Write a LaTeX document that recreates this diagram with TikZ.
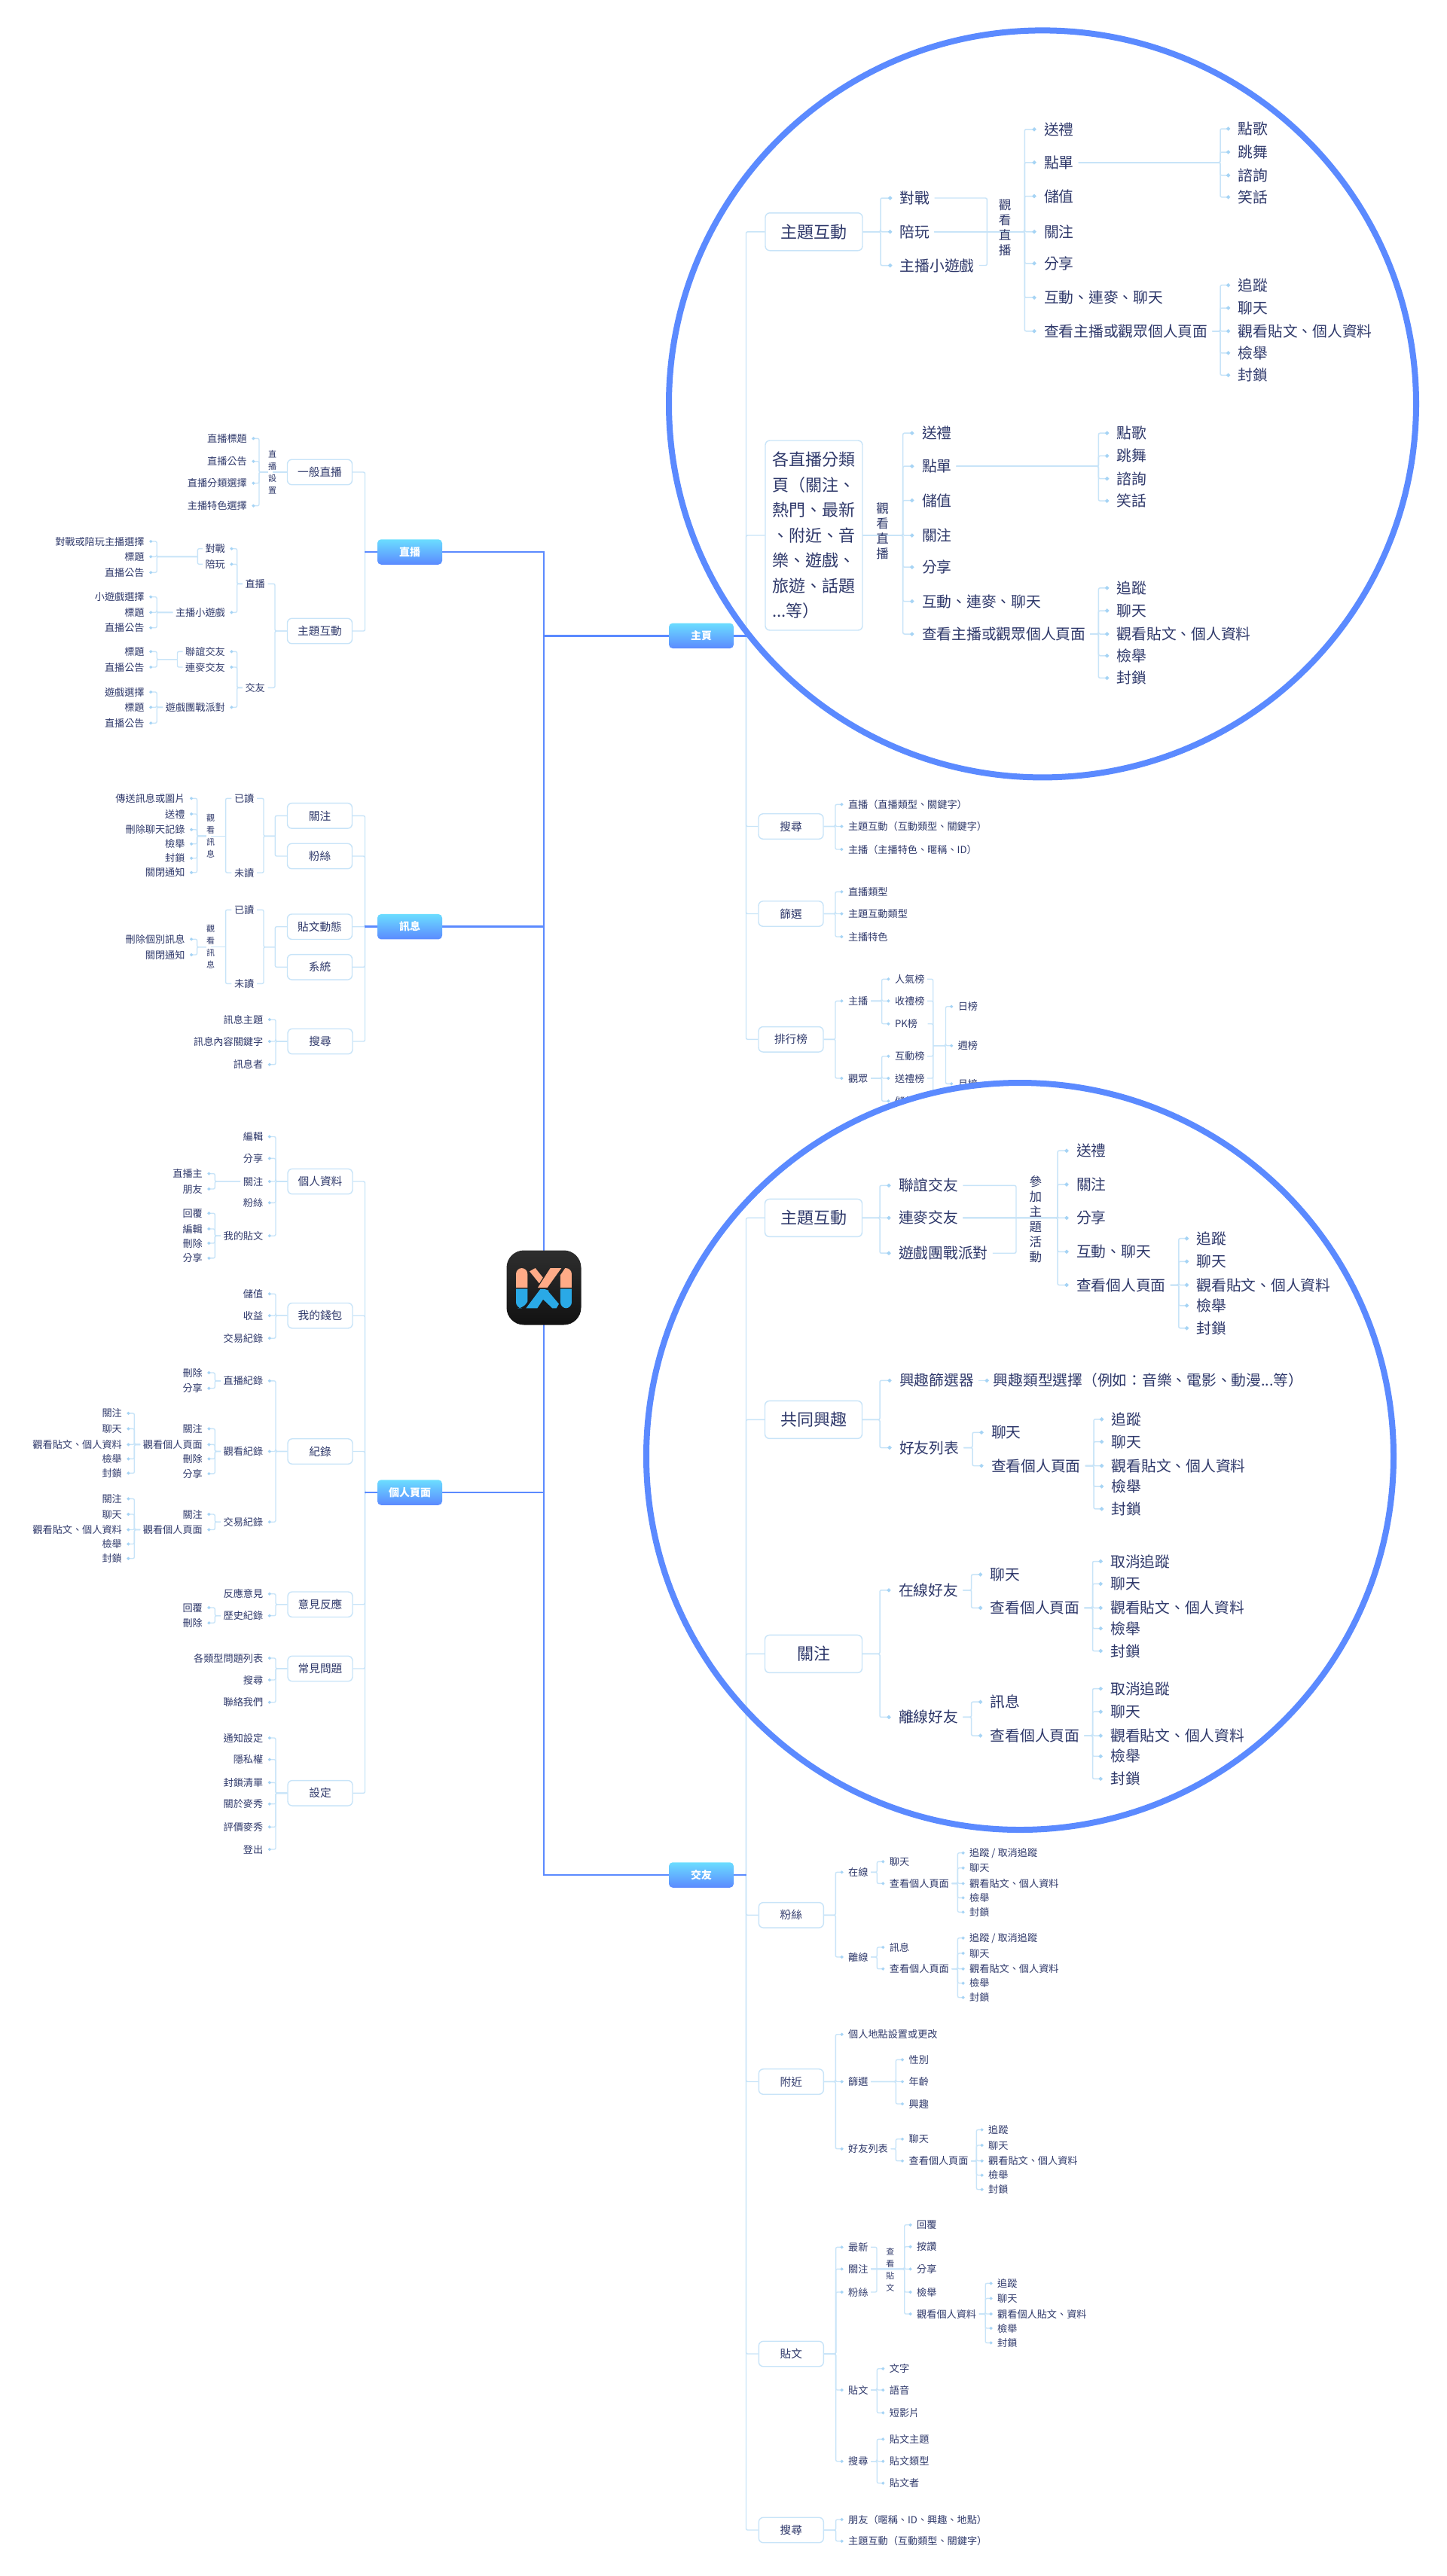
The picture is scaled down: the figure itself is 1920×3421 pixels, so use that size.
\documentclass[tikz,border=0pt]{standalone}
\usepackage{fontspec}
\setmainfont{Noto Sans CJK TC}
\usepackage{tikz}
\usetikzlibrary{arrows.meta}
\definecolor{tinta}{RGB}{46, 56, 106}
\definecolor{linea}{RGB}{200, 228, 248}
\definecolor{punto}{RGB}{166, 212, 245}
\definecolor{azul}{RGB}{91, 138, 255}
\definecolor{cielo}{RGB}{107, 221, 255}
\definecolor{salmon}{RGB}{255, 171, 135}
\definecolor{agua}{RGB}{42, 169, 230}
\pgfdeclarelayer{wires}
\pgfdeclarelayer{lenswires}
\pgfdeclarelayer{lenstext}
\pgfdeclarelayer{lensring}
\pgfsetlayers{wires,main,lenswires,lenstext,lensring}
\tikzstyle{edge}  =[line width=1.4pt, color=linea, rounded corners=2pt]
\tikzstyle{dotedge}=[edge, shorten >=3pt,
                    -{Circle[length=3.8pt,width=3.8pt,color=punto]}]
\tikzstyle{lensdot}=[edge, line width=1.5pt, shorten >=4.5pt,
                    -{Circle[length=5pt,width=5pt,color=punto]}]
\tikzstyle{mainedge}=[line width=2.8pt, color=azul]
\tikzstyle{leaf}  =[text=tinta, inner ysep=0pt, inner xsep=3.5pt, text height=11.3pt, text depth=1.3pt,
                    font=\fontsize{13.15}{16}\selectfont]
\tikzstyle{leafL} =[leaf, anchor=east, xshift=3.5pt]
\tikzstyle{leafR} =[leaf, anchor=west, xshift=-3.5pt]
\tikzstyle{lensleaf}=[text=tinta, anchor=west, xshift=-6pt, inner ysep=0pt, inner xsep=6pt, text height=17pt, text depth=2pt,
                    font=\fontsize{19.75}{24}\selectfont]
\tikzstyle{topic} =[draw=linea, fill=white, line width=1.4pt, rounded corners=6pt, text=tinta,
                    minimum width=86pt, minimum height=33.5pt, inner sep=0pt,
                    font=\fontsize{14.67}{18}\selectfont]
\tikzstyle{lenstopic}=[topic, minimum width=129pt, minimum height=50pt, font=\fontsize{22}{33.5}\selectfont]
\tikzstyle{hub}   =[top color=cielo, bottom color=azul, rounded corners=5pt, text=white,
                    minimum width=86pt, minimum height=33.5pt, inner sep=0pt,
                    font=\fontsize{14}{18}\selectfont\bfseries]
\tikzstyle{vtext} =[text=tinta, align=center, inner sep=0pt, font=\fontsize{11}{16}\selectfont]
\tikzstyle{lensvtext}=[text=tinta, align=center, inner sep=0pt, font=\fontsize{16.5}{20}\selectfont]
\tikzstyle{joint} =[inner sep=0pt, outer sep=0pt, minimum size=0pt]
\tikzstyle{logobox}=[top color=black!82, bottom color=black!93, minimum size=99pt, rounded corners=23pt, inner sep=0pt]
\tikzset{bus/.style={to path={-- (#1,0 |- \tikztostart) |- (\tikztotarget)}}}

\begin{document}
\begin{tikzpicture}[x=1pt,y=-1pt]
    \useasboundingbox (0,0) rectangle (1920,3421);

    % centre
    \draw (722,1710) node (logo) [logobox] {};
    \begin{scope}[shift={(640,1620)},x=.3333pt,y=-.3333pt]
        \fill [salmon] (135,270) [rounded corners=8pt] -- (135,192) -- (181,192) [sharp corners] -- (181,270) -- cycle;
        \fill [salmon] (189,205) -- (212,192) -- (242.5,230) -- (227.7,253) -- cycle;
        \fill [salmon] (272,192) -- (316,192) -- (260,270) -- (222,270) -- cycle;
        \fill [salmon] (312,270) -- (312,220) -- (331,192) [rounded corners=8pt] -- (357,192) [sharp corners] -- (357,270) -- cycle;
        \fill [agua] (135,275) [rounded corners=8pt] -- (135,352) -- (165,352) [sharp corners] -- (181,325) -- (181,275) -- cycle;
        \fill [agua] (175,352) -- (220,352) -- (266,282) -- (250,276) -- (232,276) -- cycle;
        \fill [agua] (262,283) -- (306,335) -- (296,352) -- (280,352) -- (241,315) -- cycle;
        \fill [agua] (312,275) -- (357,275) [rounded corners=8pt] -- (357,352) -- (312,352) [sharp corners] -- cycle;
    \end{scope}
    \draw (544,733) node (zb) [hub] {直播};
    \draw (544,1230.7) node (xx) [hub] {訊息};
    \draw (544,1982) node (gr) [hub] {個人頁面};
    \draw (931,844.3) node (zy) [hub] {主頁};
    \draw (931,2490) node (jy) [hub] {交友};

    % zhibo, left
    \draw (424.5,627) node (zbA) [topic] {一般直播};
    \draw (424.5,838) node (zbB) [topic] {主題互動};
    \draw (361.6,627) node (zbAv) [vtext] {直\\播\\設\\置};
    \draw (328,582.3) node (zbA1) [leafL] {直播標題};
    \draw (328,612.7) node (zbA2) [leafL] {直播公告};
    \draw (328,641.7) node (zbA3) [leafL] {直播分類選擇};
    \draw (328,671.7) node (zbA4) [leafL] {主播特色選擇};
    \draw (352,775.3) node (zbB1) [leafL] {直播};
    \draw (352,913.3) node (zbB2) [leafL] {交友};
    \draw (299,728.7) node (zbC1) [leafL] {對戰};
    \draw (299,749.3) node (zbC2) [leafL] {陪玩};
    \draw (299,813.3) node (zbC3) [leafL] {主播小遊戲};
    \draw (299,865.3) node (zbC4) [leafL] {聯誼交友};
    \draw (299,886) node (zbC5) [leafL] {連麥交友};
    \draw (299,939.3) node (zbC6) [leafL] {遊戲團戰派對};
    \draw (262.4,739.3) node (jA) [joint] {};
    \draw (235.5,875.7) node (jB) [joint] {};
    \draw (191.8,719) node (zbD1) [leafL] {對戰或陪玩主播選擇};
    \draw (191.8,739.3) node (zbD2) [leafL] {標題};
    \draw (191.8,760.3) node (zbD3) [leafL] {直播公告};
    \draw (191.8,792.7) node (zbE1) [leafL] {小遊戲選擇};
    \draw (191.8,813.3) node (zbE2) [leafL] {標題};
    \draw (191.8,833.7) node (zbE3) [leafL] {直播公告};
    \draw (191.8,865.3) node (zbF1) [leafL] {標題};
    \draw (191.8,886) node (zbF2) [leafL] {直播公告};
    \draw (191.8,919) node (zbG1) [leafL] {遊戲選擇};
    \draw (191.8,939.3) node (zbG2) [leafL] {標題};
    \draw (191.8,960.3) node (zbG3) [leafL] {直播公告};

    % xunxi, left
    \draw (424.5,1083.4) node (xxA) [topic] {關注};
    \draw (424.5,1137) node (xxB) [topic] {粉絲};
    \draw (424.5,1230.7) node (xxC) [topic] {貼文動態};
    \draw (424.5,1284.3) node (xxD) [topic] {系統};
    \draw (425,1383) node (xxE) [topic] {搜尋};
    \draw (365.3,1110.3) node (jC) [joint] {};
    \draw (299.6,1110.3) node (jC2) [joint] {};
    \draw (365.3,1257.7) node (jD) [joint] {};
    \draw (299.6,1257.7) node (jD2) [joint] {};
    \draw (337.5,1060.3) node (xxA1) [leafL] {已讀};
    \draw (337.5,1159) node (xxA2) [leafL] {未讀};
    \draw (337.5,1208.3) node (xxC1) [leafL] {已讀};
    \draw (337.5,1306.3) node (xxC2) [leafL] {未讀};
    \draw (279.6,1110.3) node (xxAv) [vtext] {觀\\看\\訊\\息};
    \draw (279.6,1257.7) node (xxCv) [vtext] {觀\\看\\訊\\息};
    \draw (245.7,1060.3) node (xxF1) [leafL] {傳送訊息或圖片};
    \draw (245.7,1081) node (xxF2) [leafL] {送禮};
    \draw (245.7,1101.7) node (xxF3) [leafL] {刪除聊天記錄};
    \draw (245.7,1120.7) node (xxF4) [leafL] {檢舉};
    \draw (245.7,1139.7) node (xxF5) [leafL] {封鎖};
    \draw (245.7,1158.7) node (xxF6) [leafL] {關閉通知};
    \draw (245.7,1247.3) node (xxG1) [leafL] {刪除個別訊息};
    \draw (245.7,1268) node (xxG2) [leafL] {關閉通知};
    \draw (349.4,1354) node (xxE1) [leafL] {訊息主題};
    \draw (349.4,1383) node (xxE2) [leafL] {訊息內容關鍵字};
    \draw (349.4,1413.7) node (xxE3) [leafL] {訊息者};

    % geren, left
    \draw (425,1569) node (grA) [topic] {個人資料};
    \draw (425,1747.2) node (grB) [topic] {我的錢包};
    \draw (425,1927.5) node (grC) [topic] {紀錄};
    \draw (425,2130.7) node (grD) [topic] {意見反應};
    \draw (425,2216) node (grE) [topic] {常見問題};
    \draw (425,2381.3) node (grF) [topic] {設定};
    \draw (349.4,1509.5) node (grA1) [leafL] {編輯};
    \draw (349.4,1538.4) node (grA2) [leafL] {分享};
    \draw (349.4,1569) node (grA3) [leafL] {關注};
    \draw (349.4,1597.3) node (grA4) [leafL] {粉絲};
    \draw (349.4,1641.2) node (grA5) [leafL] {我的貼文};
    \draw (269,1558.6) node (grH1) [leafL] {直播主};
    \draw (269,1579) node (grH2) [leafL] {朋友};
    \draw (269,1611.2) node (grI1) [leafL] {回覆};
    \draw (269,1632) node (grI2) [leafL] {編輯};
    \draw (269,1651) node (grI3) [leafL] {刪除};
    \draw (269,1670.9) node (grI4) [leafL] {分享};
    \draw (349.4,1718.3) node (grB1) [leafL] {儲值};
    \draw (349.4,1747.2) node (grB2) [leafL] {收益};
    \draw (349.4,1777.2) node (grB3) [leafL] {交易紀錄};
    \draw (349.4,1833.8) node (grC1) [leafL] {直播紀錄};
    \draw (349.4,1927.5) node (grC2) [leafL] {觀看紀錄};
    \draw (349.4,2021.2) node (grC3) [leafL] {交易紀錄};
    \draw (269,1823) node (grJ1) [leafL] {刪除};
    \draw (269,1843.7) node (grJ2) [leafL] {分享};
    \draw (269,1897.4) node (grK1) [leafL] {關注};
    \draw (269,1918.4) node (grK2) [leafL] {觀看個人頁面};
    \draw (269,1937.4) node (grK3) [leafL] {刪除};
    \draw (269,1957.1) node (grK4) [leafL] {分享};
    \draw (162,1876.9) node (grL1) [leafL] {關注};
    \draw (162,1897.4) node (grL2) [leafL] {聊天};
    \draw (162,1918.4) node (grL3) [leafL] {觀看貼文、個人資料};
    \draw (162,1937.4) node (grL4) [leafL] {檢舉};
    \draw (162,1956.4) node (grL5) [leafL] {封鎖};
    \draw (269,2011) node (grM1) [leafL] {關注};
    \draw (269,2031.5) node (grM2) [leafL] {觀看個人頁面};
    \draw (162,1990.4) node (grN1) [leafL] {關注};
    \draw (162,2011) node (grN2) [leafL] {聊天};
    \draw (162,2031.5) node (grN3) [leafL] {觀看貼文、個人資料};
    \draw (162,2050.5) node (grN4) [leafL] {檢舉};
    \draw (162,2069.7) node (grN5) [leafL] {封鎖};
    \draw (349.4,2116.7) node (grD1) [leafL] {反應意見};
    \draw (349.4,2145.7) node (grD2) [leafL] {歷史紀錄};
    \draw (269,2135) node (grO1) [leafL] {回覆};
    \draw (269,2155.3) node (grO2) [leafL] {刪除};
    \draw (349.4,2202) node (grE1) [leafL] {各類型問題列表};
    \draw (349.4,2231) node (grE2) [leafL] {搜尋};
    \draw (349.4,2260.7) node (grE3) [leafL] {聯絡我們};
    \draw (349.4,2308) node (grF1) [leafL] {通知設定};
    \draw (349.4,2336.7) node (grF2) [leafL] {隱私權};
    \draw (349.4,2367.3) node (grF3) [leafL] {封鎖清單};
    \draw (349.4,2395.7) node (grF4) [leafL] {關於麥秀};
    \draw (349.4,2426.3) node (grF5) [leafL] {評價麥秀};
    \draw (349.4,2456) node (grF6) [leafL] {登出};

    % zhuye, right, outside the lens
    \draw (1050,1097.5) node (zyC) [topic] {搜尋};
    \draw (1050,1213.5) node (zyD) [topic] {篩選};
    \draw (1050,1380.3) node (zyE) [topic] {排行榜};
    \draw (1125.8,1068.3) node (zyC1) [leafR] {直播（直播類型、關鍵字）};
    \draw (1125.8,1097.5) node (zyC2) [leafR] {主題互動（互動類型、關鍵字）};
    \draw (1125.8,1128) node (zyC3) [leafR] {主播（主播特色、暱稱、ID）};
    \draw (1125.8,1184.3) node (zyD1) [leafR] {直播類型};
    \draw (1125.8,1213.5) node (zyD2) [leafR] {主題互動類型};
    \draw (1125.8,1244) node (zyD3) [leafR] {主播特色};
    \draw (1125.8,1329.3) node (zyE1) [leafR] {主播};
    \draw (1125.8,1432) node (zyE2) [leafR] {觀眾};
    \draw (1187.8,1300.3) node (zyF1) [leafR] {人氣榜};
    \draw (1187.8,1329.3) node (zyF2) [leafR] {收禮榜};
    \draw (1187.8,1359.7) node (zyF3) [leafR] {PK榜};
    \draw (1187.8,1402.7) node (zyF4) [leafR] {互動榜};
    \draw (1187.8,1432) node (zyF5) [leafR] {送禮榜};
    \draw (1187.8,1462.3) node (zyF6) [leafR] {儲值榜};
    \draw (1238.7,1388.7) node (jF) [joint] {};
    \draw (1271.6,1336.7) node (zyG1) [leafR] {日榜};
    \draw (1271.6,1388.7) node (zyG2) [leafR] {週榜};
    \draw (1271.6,1439.3) node (zyG3) [leafR] {月榜};

    % jiaoyou, right, outside the lens
    \draw (1050.3,2543.3) node (jyD) [topic] {粉絲};
    \draw (1050.3,2764.5) node (jyE) [topic] {附近};
    \draw (1050.3,3126) node (jyF) [topic] {貼文};
    \draw (1050.3,3360) node (jyG) [topic] {搜尋};
    \draw (1126,2486.3) node (jyD1) [leafR] {在線};
    \draw (1126,2599) node (jyD2) [leafR] {離線};
    \draw (1180.7,2472.3) node (jyH1) [leafR] {聊天};
    \draw (1180.7,2501.3) node (jyH2) [leafR] {查看個人頁面};
    \draw (1180.7,2586) node (jyH3) [leafR] {訊息};
    \draw (1180.7,2614.7) node (jyH4) [leafR] {查看個人頁面};
    \draw (1287,2460.7) node (jyI1) [leafR] {追蹤 / 取消追蹤};
    \draw (1287,2480.7) node (jyI2) [leafR] {聊天};
    \draw (1287,2501.3) node (jyI3) [leafR] {觀看貼文、個人資料};
    \draw (1287,2520.3) node (jyI4) [leafR] {檢舉};
    \draw (1287,2539.3) node (jyI5) [leafR] {封鎖};
    \draw (1287,2573.7) node (jyJ1) [leafR] {追蹤 / 取消追蹤};
    \draw (1287,2594) node (jyJ2) [leafR] {聊天};
    \draw (1287,2614.7) node (jyJ3) [leafR] {觀看貼文、個人資料};
    \draw (1287,2633.7) node (jyJ4) [leafR] {檢舉};
    \draw (1287,2652.7) node (jyJ5) [leafR] {封鎖};
    \draw (1126,2701.7) node (jyE1) [leafR] {個人地點設置或更改};
    \draw (1126,2764.5) node (jyE2) [leafR] {篩選};
    \draw (1126,2853.7) node (jyE3) [leafR] {好友列表};
    \draw (1206.4,2735.3) node (jyK1) [leafR] {性別};
    \draw (1206.4,2764.5) node (jyK2) [leafR] {年齡};
    \draw (1206.4,2794) node (jyK3) [leafR] {興趣};
    \draw (1206.4,2840.7) node (jyL1) [leafR] {聊天};
    \draw (1206.4,2869.7) node (jyL2) [leafR] {查看個人頁面};
    \draw (1312,2828.3) node (jyM1) [leafR] {追蹤};
    \draw (1312,2849) node (jyM2) [leafR] {聊天};
    \draw (1312,2869.7) node (jyM3) [leafR] {觀看貼文、個人資料};
    \draw (1312,2888.7) node (jyM4) [leafR] {檢舉};
    \draw (1312,2907.7) node (jyM5) [leafR] {封鎖};
    \draw (1126,2984.3) node (jyF1) [leafR] {最新};
    \draw (1126,3013.3) node (jyF2) [leafR] {關注};
    \draw (1126,3044) node (jyF3) [leafR] {粉絲};
    \draw (1126,3174) node (jyF4) [leafR] {貼文};
    \draw (1126,3268.7) node (jyF5) [leafR] {搜尋};
    \draw (1164,3013.3) node (jH) [joint] {};
    \draw (1181.8,3014) node (jyFv) [vtext] {查\\看\\貼\\文};
    \draw (1217,2954.7) node (jyN1) [leafR] {回覆};
    \draw (1217,2983.7) node (jyN2) [leafR] {按讚};
    \draw (1217,3013.3) node (jyN3) [leafR] {分享};
    \draw (1217,3044) node (jyN4) [leafR] {檢舉};
    \draw (1217,3073) node (jyN5) [leafR] {觀看個人資料};
    \draw (1324,3032.3) node (jyO1) [leafR] {追蹤};
    \draw (1324,3052.3) node (jyO2) [leafR] {聊天};
    \draw (1324,3073) node (jyO3) [leafR] {觀看個人貼文、資料};
    \draw (1324,3092) node (jyO4) [leafR] {檢舉};
    \draw (1324,3111.3) node (jyO5) [leafR] {封鎖};
    \draw (1180.7,3145.7) node (jyP1) [leafR] {文字};
    \draw (1180.7,3174) node (jyP2) [leafR] {語音};
    \draw (1180.7,3204.3) node (jyP3) [leafR] {短影片};
    \draw (1180.7,3239.3) node (jyQ1) [leafR] {貼文主題};
    \draw (1180.7,3268.7) node (jyQ2) [leafR] {貼文類型};
    \draw (1180.7,3297.7) node (jyQ3) [leafR] {貼文者};
    \draw (1126,3346) node (jyG1) [leafR] {朋友（暱稱、ID、興趣、地點）};
    \draw (1126,3374.7) node (jyG2) [leafR] {主題互動（互動類型、關鍵字）};

    % wires under everything
    \begin{pgfonlayer}{wires}
        \foreach \j in {zb,xx,gr}
            \draw [mainedge] (logo.center) |- (\j.east);
        \foreach \j in {zy,jy}
            \draw [mainedge] (logo.center) |- (\j.west);

        \draw [edge] (zbA.west) -- (zbAv.center);
        \draw [edge] (jC2.center) -- (xxAv.center);
        \draw [edge] (jD2.center) -- (xxCv.center);
        \foreach \i/\j in {zbC1/jA,zbC2/jA,zbC4/jB,zbC5/jB,xxA/jC,xxB/jC,xxC/jD,xxD/jD,
        xxA1/jC2,xxA2/jC2,xxC1/jD2,xxC2/jD2}
            \draw [edge] (\i.west) -| (\j.center);

        \foreach \i/\k/\kids in {zb/484.5/{zbA,zbB},xx/484.5/{xxA,xxB,xxC,xxD,xxE},
        gr/484.5/{grA,grB,grC,grD,grE,grF},zbB/365/{zbB1,zbB2},jC/350/{xxA1,xxA2},jD/350/{xxC1,xxC2}}
            \foreach \j in \kids
                \draw [edge] (\i.west) to[bus=\k] (\j.east);

        \foreach \i/\k/\kids in {zbAv/344/{zbA1,zbA2,zbA3,zbA4},zbB1/314.7/{zbC1,zbC2,zbC3},
        zbB2/314.7/{zbC4,zbC5,zbC6},jA/208.2/{zbD1,zbD2,zbD3},zbC3/208.2/{zbE1,zbE2,zbE3},
        jB/208.2/{zbF1,zbF2},zbC6/208.2/{zbG1,zbG2,zbG3},
        xxAv/261.6/{xxF1,xxF2,xxF3,xxF4,xxF5,xxF6},xxCv/261.6/{xxG1,xxG2},xxE/366/{xxE1,xxE2,xxE3},
        grA/366/{grA1,grA2,grA3,grA4,grA5},grA3/285.3/{grH1,grH2},grA5/285.3/{grI1,grI2,grI3,grI4},
        grB/366/{grB1,grB2,grB3},grC/366/{grC1,grC2,grC3},grC1/285.3/{grJ1,grJ2},
        grC2/285.3/{grK1,grK2,grK3,grK4},grK2/178.4/{grL1,grL2,grL3,grL4,grL5},
        grC3/285.3/{grM1,grM2},grM2/178.4/{grN1,grN2,grN3,grN4,grN5},
        grD/366/{grD1,grD2},grD2/285.3/{grO1,grO2},grE/366/{grE1,grE2,grE3},
        grF/366/{grF1,grF2,grF3,grF4,grF5,grF6}}
            \foreach \j in \kids
                \draw [dotedge] (\i.west) to[bus=\k] (\j.east);

        \foreach \i in {zyF1,zyF2,zyF4,zyF5,zyF6}
            \draw [edge] (\i.east) -| (jF.center);
        \draw [edge,shorten <=10pt] (zyF3.east) -| (jF.center);
        \foreach \i in {jyF1,jyF3}
            \draw [edge] (\i.east) -| (jH.center);

        \foreach \i/\k/\kids in {zyC/1109/{zyC1,zyC2,zyC3},zyD/1109/{zyD1,zyD2,zyD3},zyE/1109/{zyE1,zyE2},
        zyE1/1170.6/{zyF1,zyF2,zyF3},zyE2/1170.6/{zyF4,zyF5,zyF6},jF/1255.5/{zyG1,zyG2,zyG3},
        jyD/1109.3/{jyD1,jyD2},jyD1/1164.3/{jyH1,jyH2},jyD2/1164.3/{jyH3,jyH4},
        jyH2/1271.4/{jyI1,jyI2,jyI3,jyI4,jyI5},jyH4/1271.4/{jyJ1,jyJ2,jyJ3,jyJ4,jyJ5},
        jyE/1109.3/{jyE1,jyE2,jyE3},jyE2/1189.3/{jyK1,jyK2,jyK3},jyE3/1189.3/{jyL1,jyL2},
        jyL2/1296.4/{jyM1,jyM2,jyM3,jyM4,jyM5},
        jyF/1109.6/{jyF1,jyF2,jyF3,jyF4,jyF5},jyF2/1200.7/{jyN1,jyN2,jyN3,jyN4,jyN5},
        jyN5/1308.2/{jyO1,jyO2,jyO3,jyO4,jyO5},jyF4/1164.3/{jyP1,jyP2,jyP3},jyF5/1164.3/{jyQ1,jyQ2,jyQ3},
        jyG/1109.6/{jyG1,jyG2}}
            \foreach \j in \kids
                \draw [dotedge] (\i.east) to[bus=\k] (\j.west);
    \end{pgfonlayer}

    % the two lenses hide what lies below them
    \fill [white] (1384,536.4) circle (496pt);
    \fill [white] (1354,1934) circle (496pt);
    \begin{pgfonlayer}{lensring}
        \draw [azul,line width=8pt] (1384,536.4) circle (496pt);
        \draw [azul,line width=8pt] (1354,1934) circle (496pt);
    \end{pgfonlayer}

    \begin{pgfonlayer}{lenstext}
        % upper lens
        \draw (1080.5,307.8) node (zyA) [lenstopic] {主題互動};
        \draw (1080.5,711) node (zyB) [lenstopic,align=left,minimum height=252pt] {各直播分類\\頁（關注、\\熱門、最新\\、附近、音\\樂、遊戲、\\旅遊、話題\\...等）};
        \draw (1194.7,263) node (zyA1) [lensleaf] {對戰};
        \draw (1194.7,307.8) node (zyA2) [lensleaf] {陪玩};
        \draw (1194.7,352.5) node (zyA3) [lensleaf] {主播小遊戲};
        \draw (1310.3,307.8) node (jE) [joint] {};
        \draw (1334,302) node (zyAv) [lensvtext] {觀\\看\\直\\播};
        \draw (1386,171.8) node (zyH1) [lensleaf] {送禮};
        \draw (1386,215.8) node (zyH2) [lensleaf] {點單};
        \draw (1386,260.5) node (zyH3) [lensleaf] {儲值};
        \draw (1386,307.8) node (zyH4) [lensleaf] {關注};
        \draw (1386,349.8) node (zyH5) [lensleaf] {分享};
        \draw (1386,395.2) node (zyH6) [lensleaf] {互動、連麥、聊天};
        \draw (1386,439.8) node (zyH7) [lensleaf] {查看主播或觀眾個人頁面};
        \draw (1643.6,171) node (zyI1) [lensleaf] {點歌};
        \draw (1643.6,202) node (zyI2) [lensleaf] {跳舞};
        \draw (1643.6,232.9) node (zyI3) [lensleaf] {諮詢};
        \draw (1643.6,261.8) node (zyI4) [lensleaf] {笑話};
        \draw (1643.6,378.7) node (zyJ1) [lensleaf] {追蹤};
        \draw (1643.6,409) node (zyJ2) [lensleaf] {聊天};
        \draw (1643.6,439.8) node (zyJ3) [lensleaf] {觀看貼文、個人資料};
        \draw (1643.6,468.8) node (zyJ4) [lensleaf] {檢舉};
        \draw (1643.6,498.3) node (zyJ5) [lensleaf] {封鎖};
        \draw (1171.7,705) node (zyBv) [lensvtext] {觀\\看\\直\\播};
        \draw (1223.8,575.2) node (zyK1) [lensleaf] {送禮};
        \draw (1223.8,619.2) node (zyK2) [lensleaf] {點單};
        \draw (1223.8,664.5) node (zyK3) [lensleaf] {儲值};
        \draw (1223.8,711) node (zyK4) [lensleaf] {關注};
        \draw (1223.8,753.2) node (zyK5) [lensleaf] {分享};
        \draw (1223.8,798.6) node (zyK6) [lensleaf] {互動、連麥、聊天};
        \draw (1223.8,842) node (zyK7) [lensleaf] {查看主播或觀眾個人頁面};
        \draw (1482.7,575.2) node (zyL1) [lensleaf] {點歌};
        \draw (1482.7,605.4) node (zyL2) [lensleaf] {跳舞};
        \draw (1482.7,635.7) node (zyL3) [lensleaf] {諮詢};
        \draw (1482.7,665.2) node (zyL4) [lensleaf] {笑話};
        \draw (1482.7,780.8) node (zyM1) [lensleaf] {追蹤};
        \draw (1482.7,811) node (zyM2) [lensleaf] {聊天};
        \draw (1482.7,842) node (zyM3) [lensleaf] {觀看貼文、個人資料};
        \draw (1482.7,870.8) node (zyM4) [lensleaf] {檢舉};
        \draw (1482.7,900.4) node (zyM5) [lensleaf] {封鎖};

        % lower lens
        \draw (1080,1617.4) node (jyA) [lenstopic] {主題互動};
        \draw (1080,1885.4) node (jyB) [lenstopic] {共同興趣};
        \draw (1080,2196.4) node (jyC) [lenstopic] {關注};
        \draw (1193,1574.4) node (jyA1) [lensleaf] {聯誼交友};
        \draw (1193,1617.4) node (jyA2) [lensleaf] {連麥交友};
        \draw (1193,1664.2) node (jyA3) [lensleaf] {遊戲團戰派對};
        \draw (1349,1617.4) node (jG) [joint] {};
        \draw (1374.8,1619) node (jyAv) [lensvtext] {參\\加\\主\\題\\活\\動};
        \draw (1429,1528.2) node (jyR1) [lensleaf] {送禮};
        \draw (1429,1573) node (jyR2) [lensleaf] {關注};
        \draw (1429,1617.4) node (jyR3) [lensleaf] {分享};
        \draw (1429,1662.3) node (jyR4) [lensleaf] {互動、聊天};
        \draw (1429,1706.5) node (jyR5) [lensleaf] {查看個人頁面};
        \draw (1588.5,1644.7) node (jyS1) [lensleaf] {追蹤};
        \draw (1588.5,1675.3) node (jyS2) [lensleaf] {聊天};
        \draw (1588.5,1706.5) node (jyS3) [lensleaf] {觀看貼文、個人資料};
        \draw (1588.5,1733.8) node (jyS4) [lensleaf] {檢舉};
        \draw (1588.5,1763.8) node (jyS5) [lensleaf] {封鎖};
        \draw (1194,1833.4) node (jyB1) [lensleaf] {興趣篩選器};
        \draw (1194,1922.5) node (jyB2) [lensleaf] {好友列表};
        \draw (1318.7,1833.4) node (jyT1) [lensleaf] {興趣類型選擇（例如：音樂、電影、動漫...等）};
        \draw (1316,1902.3) node (jyU1) [lensleaf] {聊天};
        \draw (1316,1946.6) node (jyU2) [lensleaf] {查看個人頁面};
        \draw (1475.6,1884.8) node (jyV1) [lensleaf] {追蹤};
        \draw (1475.6,1914.7) node (jyV2) [lensleaf] {聊天};
        \draw (1475.6,1946.6) node (jyV3) [lensleaf] {觀看貼文、個人資料};
        \draw (1475.6,1974) node (jyV4) [lensleaf] {檢舉};
        \draw (1475.6,2003.8) node (jyV5) [lensleaf] {封鎖};
        \draw (1193,2111.8) node (jyC1) [lensleaf] {在線好友};
        \draw (1193,2280.4) node (jyC2) [lensleaf] {離線好友};
        \draw (1314.6,2091) node (jyW1) [lensleaf] {聊天};
        \draw (1314.6,2135.3) node (jyW2) [lensleaf] {查看個人頁面};
        \draw (1314.6,2260.2) node (jyW3) [lensleaf] {訊息};
        \draw (1314.6,2305) node (jyW4) [lensleaf] {查看個人頁面};
        \draw (1474.2,2073.5) node (jyX1) [lensleaf] {取消追蹤};
        \draw (1474.2,2103.4) node (jyX2) [lensleaf] {聊天};
        \draw (1474.2,2135.3) node (jyX3) [lensleaf] {觀看貼文、個人資料};
        \draw (1474.2,2162.6) node (jyX4) [lensleaf] {檢舉};
        \draw (1474.2,2192.5) node (jyX5) [lensleaf] {封鎖};
        \draw (1474.2,2242.6) node (jyY1) [lensleaf] {取消追蹤};
        \draw (1474.2,2273.2) node (jyY2) [lensleaf] {聊天};
        \draw (1474.2,2305) node (jyY3) [lensleaf] {觀看貼文、個人資料};
        \draw (1474.2,2332.4) node (jyY4) [lensleaf] {檢舉};
        \draw (1474.2,2362.3) node (jyY5) [lensleaf] {封鎖};
    \end{pgfonlayer}

    \begin{pgfonlayer}{lenswires}
        \foreach \i/\k/\kids in {zy/990.5/{zyA,zyB,zyC,zyD,zyE},jy/990.5/{jyA,jyB,jyC,jyD,jyE,jyF,jyG}}
            \foreach \j in \kids
                \draw [edge] (\i.east) to[bus=\k] (\j.west);

        \foreach \i/\j in {zyA1/jE,zyA3/jE,jyA1/jG,jyA3/jG}
            \draw [edge] (\i.east) -| (\j.center);

        \foreach \i/\k/\kids in {zyA/1169/{zyA1,zyA2,zyA3},zyA2/1360.3/{zyH1,zyH2,zyH3,zyH4,zyH5,zyH6,zyH7},
        zyH2/1620/{zyI1,zyI2,zyI3,zyI4},zyH7/1620/{zyJ1,zyJ2,zyJ3,zyJ4,zyJ5},
        zyB/1198.7/{zyK1,zyK2,zyK3,zyK4,zyK5,zyK6,zyK7},zyK2/1458.4/{zyL1,zyL2,zyL3,zyL4},
        zyK7/1458.4/{zyM1,zyM2,zyM3,zyM4,zyM5},
        jyA/1168/{jyA1,jyA2,jyA3},jyA2/1404/{jyR1,jyR2,jyR3,jyR4,jyR5},jyR5/1564.8/{jyS1,jyS2,jyS3,jyS4,jyS5},
        jyB/1168/{jyB1,jyB2},jyB2/1291/{jyU1,jyU2},jyU2/1452/{jyV1,jyV2,jyV3,jyV4,jyV5},
        jyC/1168/{jyC1,jyC2},jyC1/1289.6/{jyW1,jyW2},jyC2/1289.6/{jyW3,jyW4},
        jyW2/1450.5/{jyX1,jyX2,jyX3,jyX4,jyX5},jyW4/1450.5/{jyY1,jyY2,jyY3,jyY4,jyY5}}
            \foreach \j in \kids
                \draw [lensdot] (\i.east) to[bus=\k] (\j.west);

        \draw [lensdot,shorten >=0pt] (jyB1.east) -- (jyT1.west);

        % blue stubs towards the buses
        \foreach \j in {zb,xx,gr}
            \draw [mainedge] (\j.west) -- ++(-16.5,0);
        \foreach \j in {zy,jy}
            \draw [mainedge] (\j.east) -- ++(16.5,0);
    \end{pgfonlayer}
\end{tikzpicture}
\end{document}
